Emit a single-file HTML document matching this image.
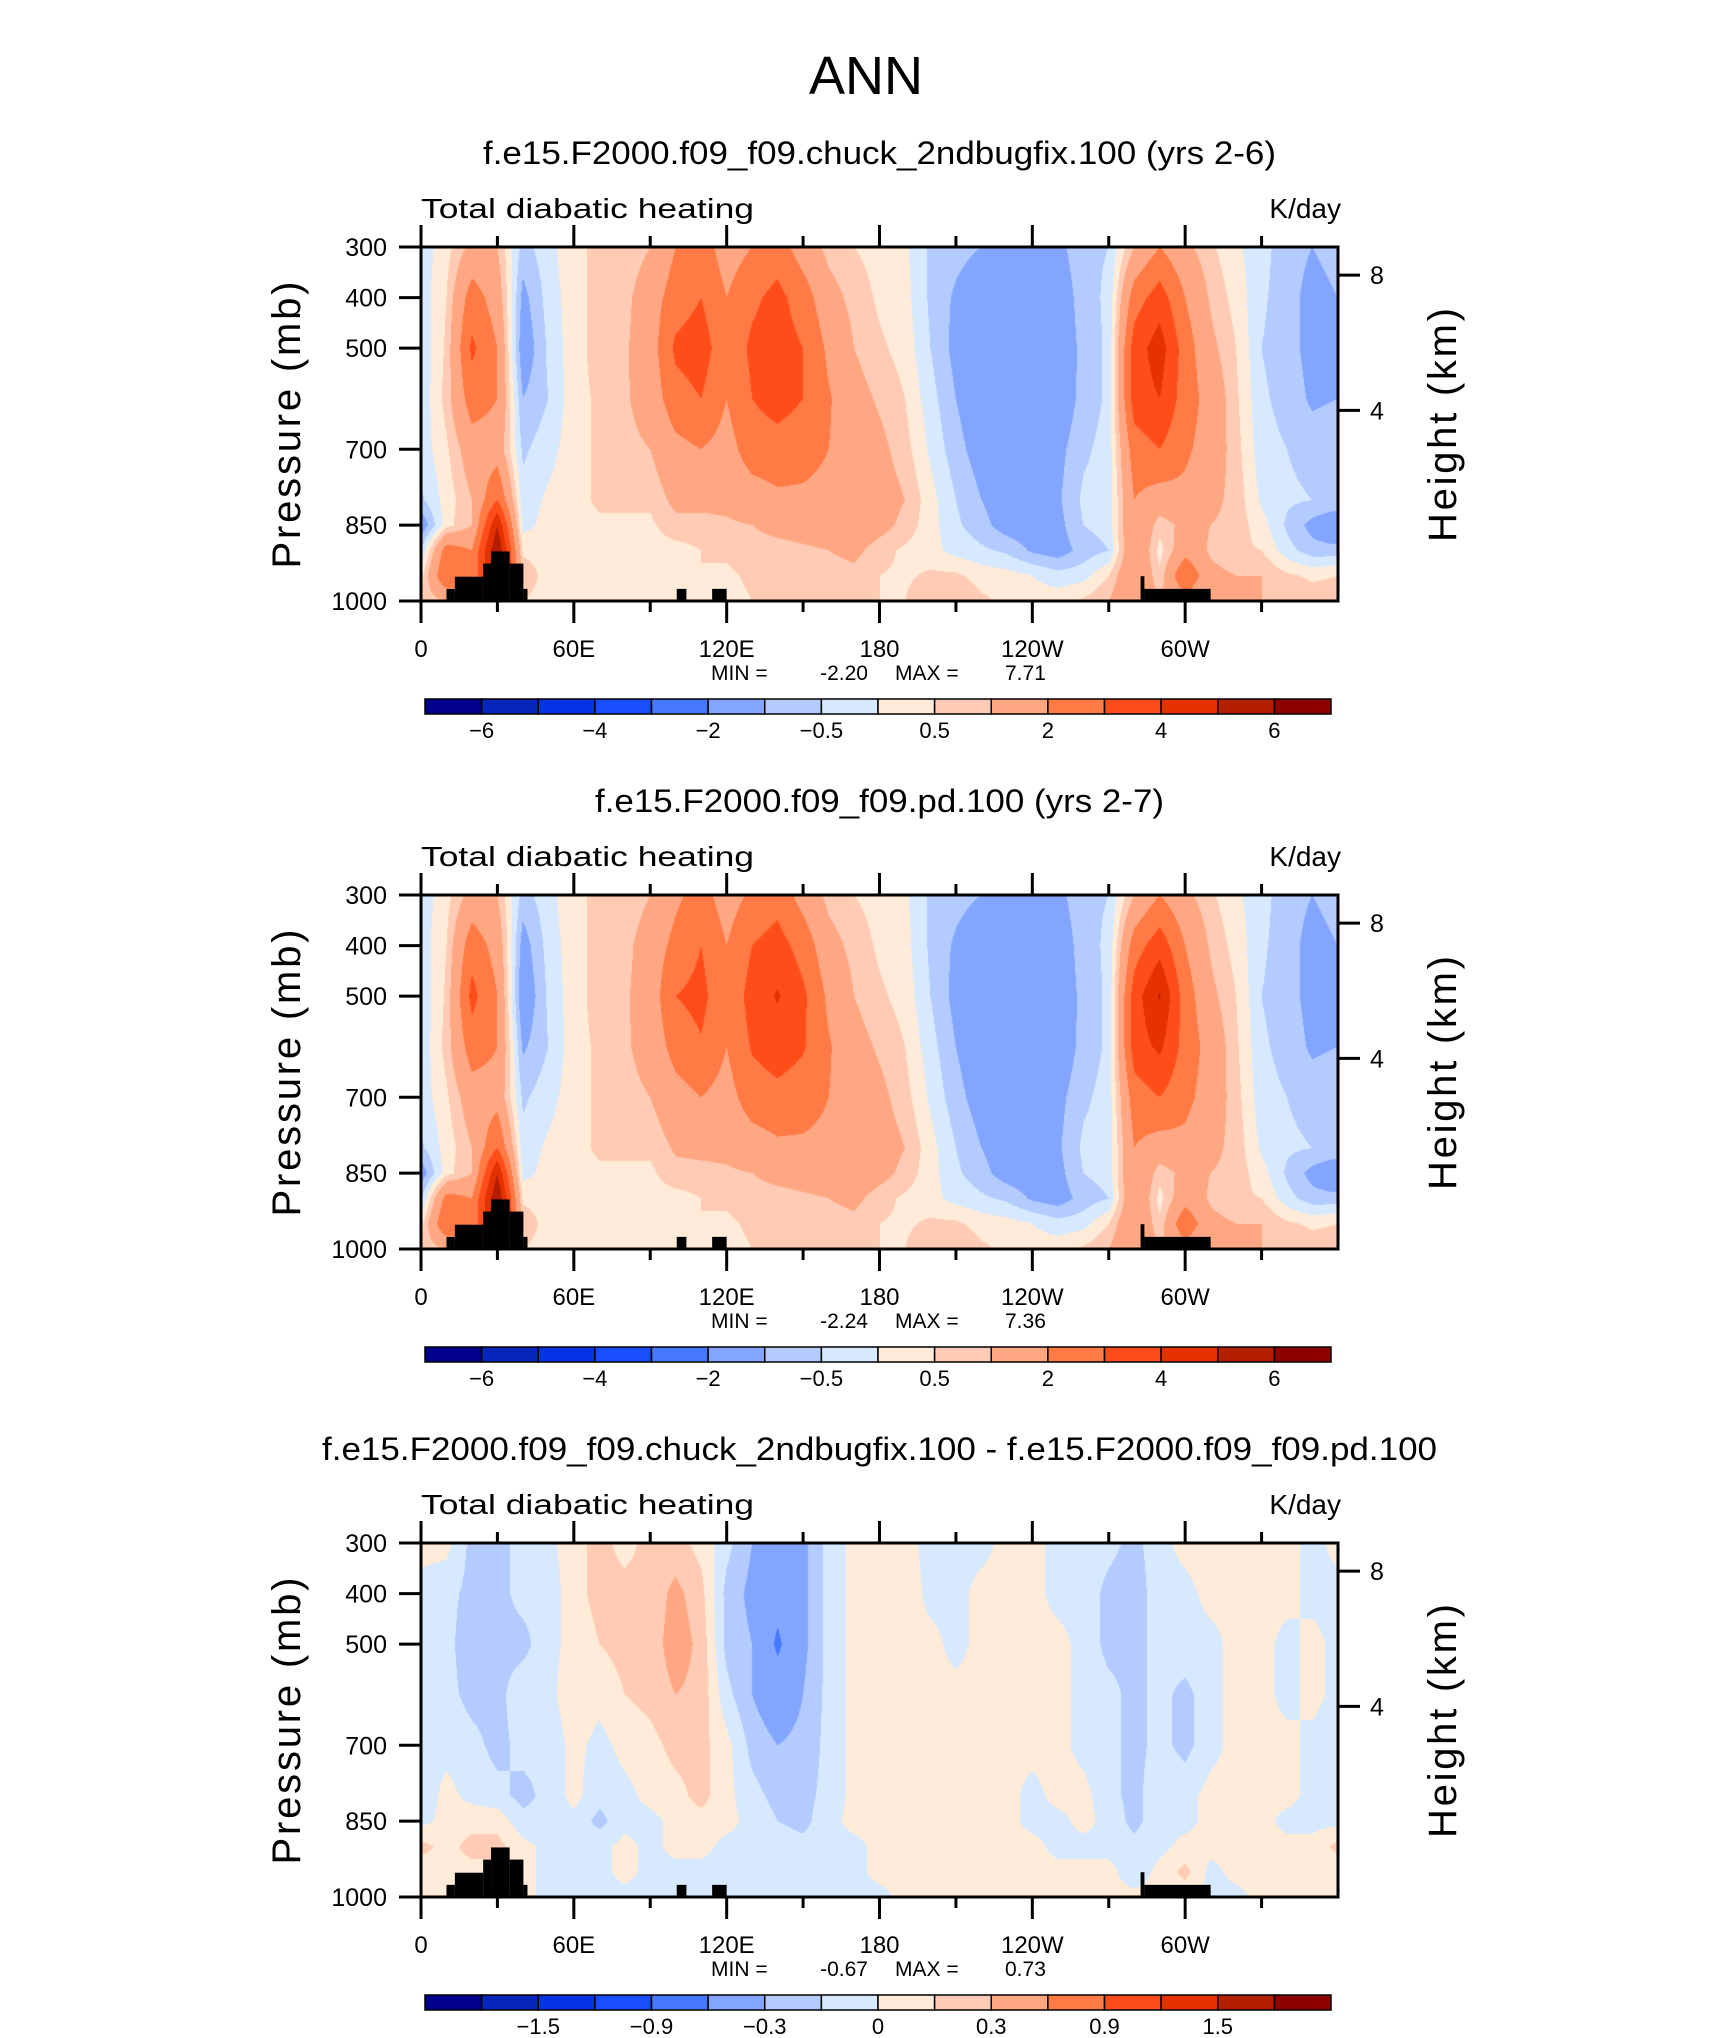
<!DOCTYPE html>
<html><head><meta charset="utf-8">
<style>
html,body{margin:0;padding:0;background:#fff;}
#wrap{position:relative;width:1710px;height:2038px;overflow:hidden;background:#fff;}
canvas{position:absolute;}
svg{position:absolute;left:0;top:0;}
text{font-family:"Liberation Sans",sans-serif;fill:#000;}
</style></head>
<body>
<div id="wrap">
<canvas id="c0" width="917" height="354" style="left:421px;top:247px"></canvas>
<canvas id="c1" width="917" height="354" style="left:421px;top:895px"></canvas>
<canvas id="c2" width="917" height="354" style="left:421px;top:1543px"></canvas>
<svg id="svg" width="1710" height="2038">
<text x="866" y="94" font-size="54" text-anchor="middle" font-weight="normal">ANN</text>
</svg>
</div>
<script>
// ---- data ----
const pressureLevels = [300,400,500,600,700,800,850,900,950,1000];
const lonStep = 10; // columns at 0,10,...,360
const panel1Cols = [
[-0.3,-0.3,-0.4,-0.4,-0.3,-0.6,-1.5,-0.5,0.3,0.6],
[0.3,0.5,0.6,0.7,0.4,0.2,0.3,2.5,3,1],
[1.2,2.5,3.2,2.5,1.5,1,1,2,2,2],
[1,1.5,2,2,1.5,3,5,6,6,5],
[-0.7,-1.2,-1.5,-1,-0.6,-0.3,-0.2,0.4,0.8,0.5],
[-0.2,-0.3,-0.4,-0.5,-0.2,0.1,0.2,0.3,0.3,0.3],
[0.4,0.3,0.3,0.3,0.3,0.3,0.3,0.3,0.3,0.3],
[0.6,0.7,0.7,0.6,0.6,0.6,0.4,0.4,0.3,0.3],
[0.6,0.8,0.9,0.9,0.8,0.6,0.4,0.3,0.3,0.3],
[1,1.5,1.5,1.4,1,0.6,0.4,0.3,0.3,0.3],
[2,2.5,3.2,2.6,1.7,1.2,0.8,0.3,0.3,0.3],
[2.5,3,3.5,3,2,1.2,0.8,0.5,0.5,0.3],
[1.5,2,2.3,2,1.6,1.2,0.9,0.6,0.4,0.3],
[2,2.8,3.2,3,2.5,1.5,1,0.8,0.6,0.5],
[2.5,3.3,3.5,3.4,2.6,1.8,1.2,0.8,0.6,0.5],
[1.5,2.5,3,3,2.4,1.8,1.3,0.9,0.6,0.5],
[0.8,1.3,1.8,2.1,2,1.7,1.4,1,0.7,0.6],
[0.5,0.8,1,1.3,1.6,1.7,1.6,1.2,0.8,0.6],
[0.3,0.4,0.6,0.9,1.2,1.4,1.3,0.7,0.5,0.5],
[0.1,0.2,0.3,0.5,0.7,1,0.8,0.4,0.4,0.5],
[-0.6,-0.6,-0.5,-0.3,-0.1,0.2,0.2,0.2,0.6,1],
[-0.8,-1.1,-1.2,-1,-0.8,-0.5,-0.4,-0.2,0.6,1],
[-1,-1.5,-1.5,-1.5,-1.3,-1,-0.8,-0.4,0.3,0.6],
[-1.2,-1.6,-1.6,-1.6,-1.5,-1.4,-1.3,-0.6,0.2,0.4],
[-1.3,-1.6,-1.7,-1.7,-1.6,-1.5,-1.4,-1.1,0,0.3],
[-1.2,-1.5,-1.6,-1.5,-1.2,-1.1,-1.2,-1.3,-0.3,0.3],
[-0.6,-0.7,-0.8,-0.8,-0.6,-0.4,-0.5,-0.8,-0.2,0.6],
[-0.5,-0.4,-0.4,-0.4,-0.3,-0.3,-0.3,-0.5,0.5,1],
[1,2.5,3.5,3.5,2.5,2,2,2,2,2],
[2,3.5,4.5,4,3,1.5,0.7,0.3,0.6,1],
[1.2,2,2.5,2.5,2.2,1.7,1.2,1.6,3,1.5],
[0.6,0.9,1.2,1.6,1.5,1.2,1,0.9,1.2,1],
[0.1,0.3,0.5,0.6,0.7,0.8,0.8,0.6,1,1],
[-0.3,-0.4,-0.5,-0.4,-0.3,-0.1,0.2,0.5,1,1],
[-0.8,-0.8,-0.8,-0.7,-0.5,-0.4,-0.6,-0.3,0.6,1],
[-1,-1.2,-1.2,-1.1,-0.7,-0.5,-1.2,-0.8,0.4,0.8],
[-0.8,-1,-1.1,-1,-0.6,-0.5,-1.7,-0.8,0.5,0.8]
];
const panel2Cols = [
[-0.3,-0.3,-0.4,-0.4,-0.3,-0.6,-1.4,-0.6,0.3,0.6],
[0.3,0.5,0.6,0.7,0.4,0.2,0.3,2.4,3,1],
[1.3,2.6,3.3,2.5,1.5,1,1,2,2,2],
[1,1.6,2,2,1.6,3,5,6,6,5],
[-0.7,-1.3,-1.6,-1.1,-0.6,-0.3,-0.2,0.4,0.8,0.5],
[-0.2,-0.3,-0.4,-0.5,-0.2,0.1,0.2,0.3,0.3,0.3],
[0.4,0.3,0.3,0.3,0.3,0.3,0.3,0.3,0.3,0.3],
[0.6,0.7,0.7,0.6,0.6,0.6,0.4,0.4,0.3,0.3],
[0.6,0.8,0.9,0.9,0.8,0.6,0.4,0.3,0.3,0.3],
[1,1.4,1.4,1.3,1,0.6,0.4,0.3,0.3,0.3],
[1.8,2.3,3,2.4,1.6,1.1,0.8,0.3,0.3,0.3],
[2.4,3,3.3,2.9,2,1.2,0.8,0.5,0.5,0.3],
[1.5,2,2.2,2,1.6,1.2,0.9,0.6,0.4,0.3],
[2.2,3,3.4,3.1,2.5,1.5,1,0.8,0.6,0.5],
[2.6,3.4,4.1,3.5,2.7,1.8,1.2,0.8,0.6,0.5],
[1.6,2.6,3.2,3.1,2.5,1.8,1.3,0.9,0.6,0.5],
[0.8,1.3,1.8,2.1,2,1.7,1.4,1,0.7,0.6],
[0.5,0.8,1,1.3,1.6,1.7,1.6,1.2,0.8,0.6],
[0.3,0.4,0.6,0.9,1.2,1.4,1.3,0.7,0.5,0.5],
[0.1,0.2,0.3,0.5,0.7,1,0.8,0.4,0.4,0.5],
[-0.6,-0.6,-0.5,-0.3,-0.1,0.2,0.2,0.2,0.6,1],
[-0.8,-1.1,-1.2,-1,-0.8,-0.5,-0.4,-0.2,0.6,1],
[-1,-1.5,-1.5,-1.5,-1.3,-1,-0.8,-0.4,0.3,0.6],
[-1.2,-1.6,-1.6,-1.6,-1.5,-1.4,-1.3,-0.6,0.2,0.4],
[-1.3,-1.6,-1.7,-1.7,-1.6,-1.5,-1.4,-1.1,0,0.3],
[-1.2,-1.5,-1.6,-1.5,-1.2,-1.1,-1.2,-1.3,-0.3,0.3],
[-0.6,-0.7,-0.8,-0.8,-0.6,-0.4,-0.5,-0.8,-0.2,0.6],
[-0.5,-0.4,-0.4,-0.4,-0.3,-0.3,-0.3,-0.5,0.5,1],
[1,2.5,3.5,3.5,2.5,2,2,2,2,2],
[2,3.6,5.1,4.2,3,1.5,0.7,0.3,0.6,1],
[1.2,2,2.5,2.6,2.3,1.7,1.2,1.6,2.8,1.5],
[0.6,0.9,1.2,1.6,1.5,1.2,1,0.9,1.2,1],
[0.1,0.3,0.5,0.6,0.7,0.8,0.8,0.6,1,1],
[-0.3,-0.4,-0.5,-0.4,-0.3,-0.1,0.2,0.5,1,1],
[-0.8,-0.8,-0.8,-0.7,-0.5,-0.4,-0.6,-0.3,0.6,1],
[-1,-1.2,-1.2,-1.1,-0.7,-0.5,-1.2,-0.8,0.4,0.8],
[-0.8,-1,-1.1,-1,-0.6,-0.5,-1.7,-0.8,0.5,0.8]
];
const panel3Cols = [
[0.05,-0.05,-0.05,-0.05,-0.1,-0.1,-0.05,0.2,0.05,0.05],
[0.05,-0.1,-0.1,-0.1,-0.05,0.05,0.05,0.1,0.1,0.05],
[-0.2,-0.2,-0.25,-0.2,-0.1,-0.05,0.1,0.2,0.1,0.1],
[-0.2,-0.2,-0.2,-0.2,-0.2,-0.1,0.1,0.2,0.1,0.1],
[-0.1,-0.1,-0.2,-0.05,-0.1,-0.2,-0.1,0.05,0.05,0.05],
[-0.05,-0.1,-0.05,-0.05,-0.1,-0.1,-0.1,-0.05,-0.05,-0.05],
[0.1,0.1,0.05,0.1,0.05,0.05,-0.05,-0.05,-0.05,-0.05],
[0.2,0.2,0.15,0.05,-0.05,-0.1,-0.2,-0.05,-0.05,-0.05],
[0.1,0.2,0.2,0.15,0.05,-0.05,-0.05,0.05,0.05,-0.05],
[0.2,0.2,0.2,0.2,0.1,0.05,-0.05,-0.05,-0.05,-0.05],
[0.2,0.35,0.4,0.3,0.2,0.1,0.05,0.05,-0.05,-0.05],
[0.1,0.2,0.25,0.25,0.2,0.2,0.1,0.05,-0.05,-0.05],
[-0.1,-0.2,-0.2,-0.1,0.05,0.05,0.05,-0.05,-0.05,-0.05],
[-0.3,-0.35,-0.3,-0.3,-0.2,-0.1,-0.05,-0.05,-0.05,-0.05],
[-0.35,-0.5,-0.65,-0.45,-0.3,-0.2,-0.15,-0.05,-0.05,-0.05],
[-0.35,-0.35,-0.35,-0.3,-0.25,-0.2,-0.2,-0.1,-0.05,-0.05],
[-0.1,-0.1,-0.1,-0.1,-0.1,-0.1,-0.05,-0.05,-0.05,-0.05],
[0.05,0.05,0.05,0.05,0.05,0.05,0.05,-0.05,-0.05,-0.05],
[0.1,0.05,0.05,0.05,0.05,0.05,0.05,0.05,0.05,-0.05],
[0.05,0.1,0.05,0.05,0.05,0.05,0.05,0.05,0.05,0.05],
[-0.05,-0.05,0.05,0.05,0.05,0.05,0.05,0.05,0.05,0.05],
[-0.05,-0.05,-0.05,0.05,0.05,0.05,0.05,0.05,0.05,0.05],
[-0.05,0.05,0.05,0.05,0.05,0.05,0.05,0.05,0.05,0.05],
[0.05,0.05,0.05,0.05,0.05,0.05,0.05,0.05,0.05,0.05],
[0.05,0.05,0.05,0.05,0.05,-0.05,-0.05,0.05,0.05,0.05],
[-0.05,-0.05,0.05,0.05,0.05,0.05,-0.05,-0.05,0.05,0.05],
[-0.05,-0.05,-0.05,-0.05,-0.05,0.05,0.05,-0.05,0.05,0.05],
[-0.1,-0.2,-0.2,-0.1,-0.1,-0.1,-0.05,-0.05,0.05,0.05],
[-0.2,-0.25,-0.2,-0.2,-0.2,-0.2,-0.2,-0.1,-0.1,0.05],
[-0.05,-0.05,-0.1,-0.1,-0.1,-0.05,-0.05,-0.05,0.05,0.05],
[0.05,-0.05,-0.05,-0.2,-0.2,-0.05,-0.05,0.05,0.2,0.05],
[0.1,0.05,-0.05,-0.05,-0.05,0.05,0.05,0.05,-0.05,-0.05],
[0.05,0.05,0.05,0.05,0.05,0.05,0.05,0.05,0.05,-0.05],
[0.05,0.05,0.05,0.05,0.05,0.05,0.05,0.05,0.05,0.05],
[0.05,0.05,-0.05,-0.05,0.05,0.05,-0.05,0.05,0.05,0.05],
[-0.05,-0.05,0.05,0.05,-0.05,-0.05,-0.05,0.05,0.05,0.05],
[0.05,-0.05,-0.05,-0.05,-0.1,-0.1,-0.05,0.2,0.05,0.05]
];
const levelsFull = [-6,-5,-4,-3,-2,-1,-0.5,0,0.5,1,2,3,4,5,6];
const levelsDiff = [-1.8,-1.5,-1.2,-0.9,-0.6,-0.3,-0.15,0,0.15,0.3,0.6,0.9,1.2,1.5,1.8];
const cbLabelsFull = ["-6","-4","-2","-0.5","0.5","2","4","6"];
const cbLabelsDiff = ["-1.5","-0.9","-0.3","0","0.3","0.9","1.5"];
const palette = ["#00008c","#0526b8","#0533e6","#1a4dff","#4678ff","#82a6ff","#b4cbff","#d7e9ff","#ffebd7","#ffcbb4","#ffa782","#ff7a45","#ff4d1a","#e63200","#b41e00","#8c0000"];
const lonTickLabels = ["0","60E","120E","180","120W","60W"];
const lonTickValues = [0,60,120,180,240,300];
const pressTicks = [300,400,500,700,850,1000];
const heightTicks = [8,4];
const heightTickPress = [355.6,623];
const terrain = [[10,13.3,976],[13.3,24.4,952],[24.4,27.5,926],[27.5,34.8,902],[34.8,40.2,926],[40.2,41.8,976],
[100.4,104.2,976],[114.3,120,976],[282.5,284,951],[284,310,976]];
const titles = ["f.e15.F2000.f09_f09.chuck_2ndbugfix.100 (yrs 2-6)","f.e15.F2000.f09_f09.pd.100 (yrs 2-7)","f.e15.F2000.f09_f09.chuck_2ndbugfix.100 - f.e15.F2000.f09_f09.pd.100"];
const titleLens = [793,569,1115];
const minVals = ["-2.20","-2.24","-0.67"];
const maxVals = ["7.71","7.36","0.73"];

// ---- layout ----
const PX=421, PW=917, PH=354, TOP0=247, DY=648;
const NS="http://www.w3.org/2000/svg";
const svg=document.getElementById('svg');
function xLon(l){return PX+l/360*PW;}
function yP(p,top){return top+(p-300)/700*PH;}
function mk(tag,attrs,parent){const e=document.createElementNS(NS,tag);for(const k in attrs)e.setAttribute(k,attrs[k]);(parent||svg).appendChild(e);return e;}
function hex(h){return [parseInt(h.substr(1,2),16),parseInt(h.substr(3,2),16),parseInt(h.substr(5,2),16)];}
const palRGB=palette.map(hex);

function sample(cols,lon,p){
  const fx=lon/lonStep; let i=Math.floor(fx); if(i>=cols.length-1)i=cols.length-2; const tx=fx-i;
  let j=0; while(j<pressureLevels.length-2 && p>pressureLevels[j+1]) j++;
  const ty=(p-pressureLevels[j])/(pressureLevels[j+1]-pressureLevels[j]);
  const a=cols[i][j],b=cols[i+1][j],c=cols[i][j+1],d=cols[i+1][j+1];
  return (a*(1-tx)+b*tx)*(1-ty)+(c*(1-tx)+d*tx)*ty;
}
function drawField(cid,cols,levels){
  const cv=document.getElementById(cid),ctx=cv.getContext('2d');
  const img=ctx.createImageData(PW,PH);
  for(let y=0;y<PH;y++){const p=300+(y+0.5)/PH*700;
    for(let x=0;x<PW;x++){const lon=(x+0.5)/PW*360;const v=sample(cols,lon,p);
      let k=0;while(k<levels.length&&v>=levels[k])k++;
      const c=palRGB[k];const o=(y*PW+x)*4;img.data[o]=c[0];img.data[o+1]=c[1];img.data[o+2]=c[2];img.data[o+3]=255;}}
  ctx.putImageData(img,0,0);
}
const fields=[panel1Cols,panel2Cols,panel3Cols];
const levs=[levelsFull,levelsFull,levelsDiff];
const cbl=[cbLabelsFull,cbLabelsFull,cbLabelsDiff];
for(let n=0;n<3;n++){
  drawField('c'+n,fields[n],levs[n]);
  const top=TOP0+n*DY, off=n*DY;
  const g=mk('g',{});
  
  
  let t=mk('text',{x:PX+PW/2,y:164+off,'font-size':32,'text-anchor':'middle',textLength:titleLens[n],lengthAdjust:'spacingAndGlyphs'},g);t.textContent=titles[n];
  
  
  t=mk('text',{x:PX,y:218+off,'font-size':28,textLength:333,lengthAdjust:'spacingAndGlyphs'},g);t.textContent="Total diabatic heating";
  
  
  t=mk('text',{x:PX+PW+3,y:218+off,'font-size':28,'text-anchor':'end'},g);t.textContent="K/day";
  
  
  terrain.forEach(b=>{const r=mk('rect',{x:xLon(b[0]),y:yP(b[2],top),width:xLon(b[1])-xLon(b[0]),height:yP(1000,top)-yP(b[2],top),fill:'#000'},g);
    
    });
  const f=mk('rect',{x:PX,y:top,width:PW,height:PH,fill:'none',stroke:'#000','stroke-width':3},g);
  
  
  for(let l=0;l<=330;l+=30){const maj=(l%60===0);const x=xLon(l);const len=maj?22:11;
    mk('line',{x1:x,y1:top,x2:x,y2:top-len,stroke:'#000','stroke-width':3},g);
    mk('line',{x1:x,y1:top+PH,x2:x,y2:top+PH+len,stroke:'#000','stroke-width':3},g);}
  lonTickValues.forEach((l,i)=>{const tt=mk('text',{x:xLon(l),y:top+410,'font-size':24,'text-anchor':'middle'},g);tt.textContent=lonTickLabels[i];
    
    });
  pressTicks.forEach(p=>{const y=yP(p,top);mk('line',{x1:PX-22,y1:y,x2:PX,y2:y,stroke:'#000','stroke-width':3},g);
    const tt=mk('text',{x:PX-34,y:y+9,'font-size':25,'text-anchor':'end'},g);tt.textContent=String(p);
    
    });
  heightTicks.forEach((h,i)=>{const y=yP(heightTickPress[i],top);mk('line',{x1:PX+PW,y1:y,x2:PX+PW+22,y2:y,stroke:'#000','stroke-width':3},g);
    const tt=mk('text',{x:PX+PW+32,y:y+9,'font-size':25},g);tt.textContent=String(h);
    
    });
  t=mk('text',{x:0,y:0,'font-size':40,'text-anchor':'middle',textLength:287,lengthAdjust:'spacing',transform:`translate(300,${top+178}) rotate(-90)`},g);t.textContent="Pressure (mb)";
  
  
  t=mk('text',{x:0,y:0,'font-size':40,'text-anchor':'middle',textLength:234,lengthAdjust:'spacing',transform:`translate(1456,${top+178}) rotate(-90)`},g);t.textContent="Height (km)";
  
  
  t=mk('text',{x:711,y:top+433,'font-size':21},g);t.textContent="MIN =";
  
  
  t=mk('text',{x:868,y:top+433,'font-size':21,'text-anchor':'end'},g);t.textContent=minVals[n];
  
  
  t=mk('text',{x:895,y:top+433,'font-size':21},g);t.textContent="MAX =";
  
  
  t=mk('text',{x:1005,y:top+433,'font-size':21},g);t.textContent=maxVals[n];
  
  
  const cbx=425,cbw=906,cby=top+452,cbh=15,cw=cbw/16;
  palette.forEach((c,i)=>{const r=mk('rect',{x:cbx+i*cw,y:cby,width:cw,height:cbh,fill:c,stroke:'#000','stroke-width':1.5},g);
    
    });
  const labs=cbl[n]; const startB=(labs.length===8)?1:2;
  labs.forEach((s,i)=>{const b=startB+2*i;const tt=mk('text',{x:cbx+b*cw,y:cby+39,'font-size':22,'text-anchor':'middle'},g);tt.textContent=s.replace('-','\u2212');
    
    });
}
</script>
</body></html>
